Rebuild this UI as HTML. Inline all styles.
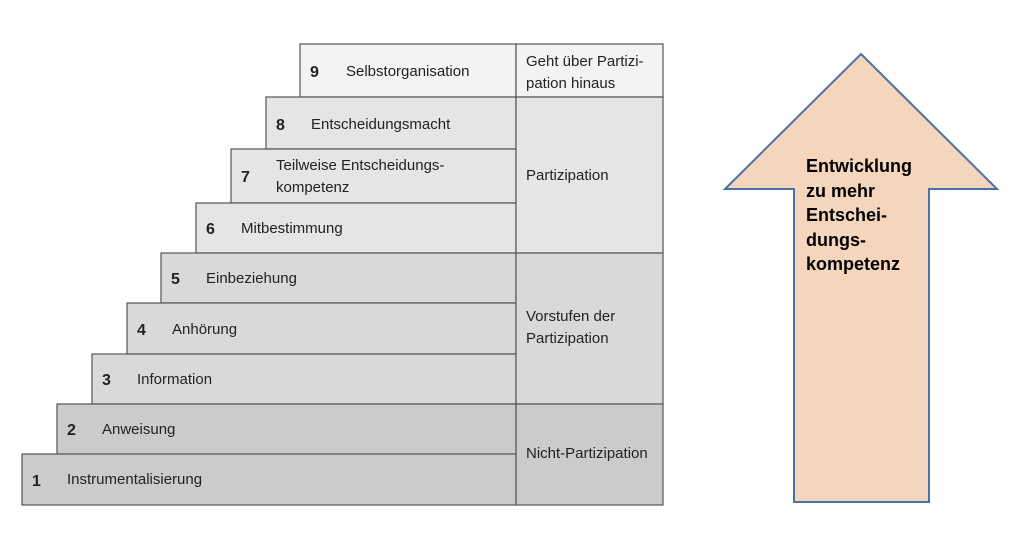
<!DOCTYPE html>
<html><head><meta charset="utf-8"><style>
html,body{margin:0;padding:0;background:#fff;}
svg{display:block;}
text{font-family:"Liberation Sans",Arial,sans-serif;fill:#222;}
</style></head><body>
<svg width="1016" height="550" viewBox="0 0 1016 550" xmlns="http://www.w3.org/2000/svg">
<g stroke="#555" stroke-width="1.2">
<rect x="300" y="44" width="216" height="53" fill="#f3f3f3"/>
<rect x="266" y="97" width="250" height="52" fill="#e5e5e5"/>
<rect x="231" y="149" width="285" height="54" fill="#e5e5e5"/>
<rect x="196" y="203" width="320" height="50" fill="#e5e5e5"/>
<rect x="161" y="253" width="355" height="50" fill="#d9d9d9"/>
<rect x="127" y="303" width="389" height="51" fill="#d9d9d9"/>
<rect x="92" y="354" width="424" height="50" fill="#d9d9d9"/>
<rect x="57" y="404" width="459" height="50" fill="#cbcbcb"/>
<rect x="22" y="454" width="494" height="51" fill="#cbcbcb"/>
<rect x="516" y="44" width="147" height="53" fill="#f3f3f3"/>
<rect x="516" y="97" width="147" height="156" fill="#e5e5e5"/>
<rect x="516" y="253" width="147" height="151" fill="#d9d9d9"/>
<rect x="516" y="404" width="147" height="101" fill="#cbcbcb"/>
</g>
<g font-size="15">
<text x="310" y="77" font-weight="bold" font-size="16">9</text><text x="346" y="76">Selbstorganisation</text>
<text x="276" y="130" font-weight="bold" font-size="16">8</text><text x="311" y="129">Entscheidungsmacht</text>
<text x="241" y="182" font-weight="bold" font-size="16">7</text><text x="276" y="170">Teilweise Entscheidungs-</text><text x="276" y="192">kompetenz</text>
<text x="206" y="234" font-weight="bold" font-size="16">6</text><text x="241" y="233">Mitbestimmung</text>
<text x="171" y="284" font-weight="bold" font-size="16">5</text><text x="206" y="283">Einbeziehung</text>
<text x="137" y="335" font-weight="bold" font-size="16">4</text><text x="172" y="334">Anhörung</text>
<text x="102" y="385" font-weight="bold" font-size="16">3</text><text x="137" y="384">Information</text>
<text x="67" y="435" font-weight="bold" font-size="16">2</text><text x="102" y="434">Anweisung</text>
<text x="32" y="486" font-weight="bold" font-size="16">1</text><text x="67" y="484">Instrumentalisierung</text>
<text x="526" y="66">Geht über Partizi-</text><text x="526" y="88">pation hinaus</text>
<text x="526" y="180">Partizipation</text>
<text x="526" y="321">Vorstufen der</text><text x="526" y="343">Partizipation</text>
<text x="526" y="458">Nicht-Partizipation</text>
</g>
<polygon points="861,54 997,189 929,189 929,502 794,502 794,189 725,189" fill="#f5d6bd" stroke="#4a72a8" stroke-width="2"/>
<g font-size="18" font-weight="bold">
<text x="806" y="172" style="fill:#000">Entwicklung</text>
<text x="806" y="197" style="fill:#000">zu mehr</text>
<text x="806" y="221" style="fill:#000">Entschei-</text>
<text x="806" y="246" style="fill:#000">dungs-</text>
<text x="806" y="270" style="fill:#000">kompetenz</text>
</g>
</svg>
</body></html>
